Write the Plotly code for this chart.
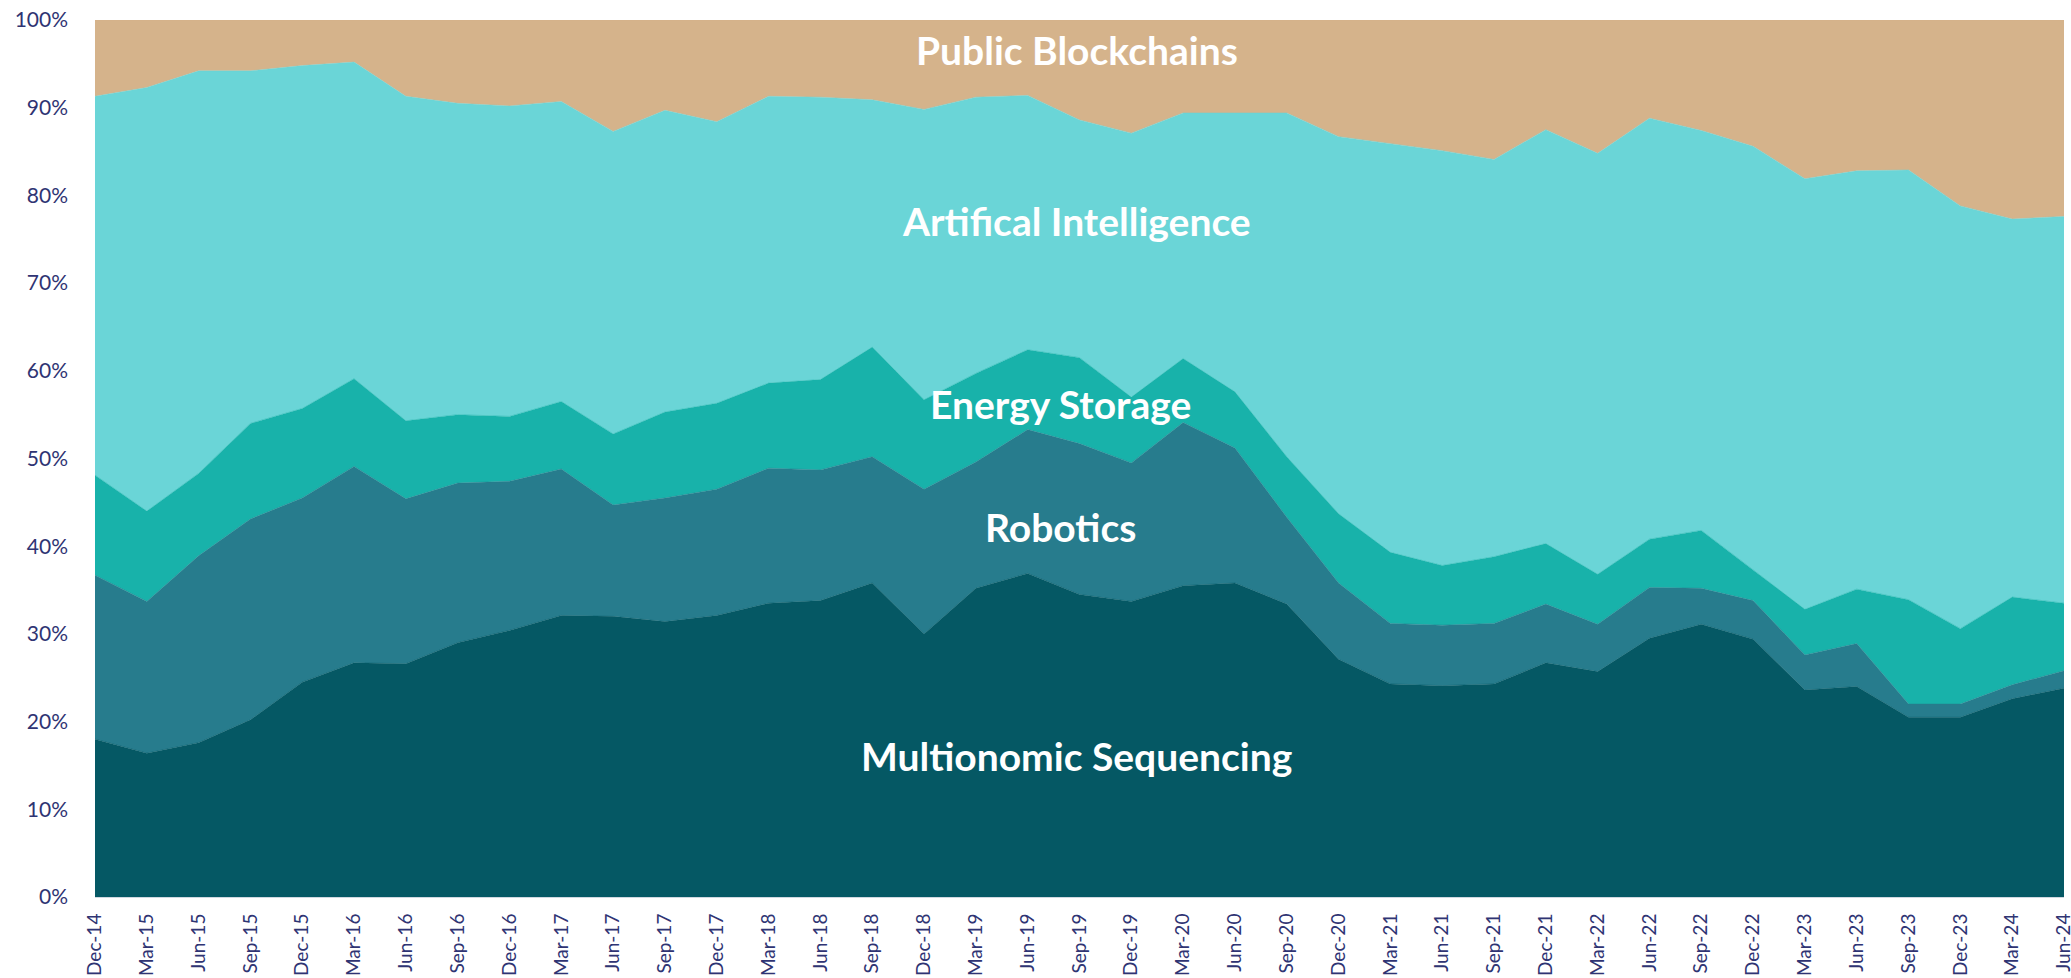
import plotly.graph_objects as go

quarters = ["Dec-14","Mar-15","Jun-15","Sep-15","Dec-15","Mar-16","Jun-16","Sep-16","Dec-16",
            "Mar-17","Jun-17","Sep-17","Dec-17","Mar-18","Jun-18","Sep-18","Dec-18","Mar-19",
            "Jun-19","Sep-19","Dec-19","Mar-20","Jun-20","Sep-20","Dec-20","Mar-21","Jun-21",
            "Sep-21","Dec-21","Mar-22","Jun-22","Sep-22","Dec-22","Mar-23","Jun-23","Sep-23",
            "Dec-23","Mar-24","Jun-24"]

multionomic_sequencing = [18.0,16.4,17.6,20.2,24.5,26.7,26.6,29.0,30.4,32.1,32.0,31.4,32.1,33.5,33.8,
                          35.8,30.0,35.2,36.9,34.5,33.7,35.5,35.8,33.4,27.1,24.3,24.1,24.3,26.7,25.7,
                          29.5,31.1,29.4,23.6,24.0,20.5,20.5,22.6,23.8]
robotics = [18.7,17.3,21.3,22.9,21.0,22.4,18.8,18.2,17.0,16.7,12.7,14.1,14.4,15.4,14.9,14.4,16.5,14.4,
            16.4,17.2,15.8,18.6,15.4,9.9,8.7,6.9,6.9,6.9,6.7,5.4,5.8,4.1,4.4,4.0,4.9,1.5,1.5,1.6,2.0]
energy_storage = [11.4,10.3,9.4,10.9,10.2,10.0,8.9,7.8,7.4,7.7,8.1,9.8,9.8,9.7,10.3,12.5,10.2,10.1,
                  9.1,9.8,7.5,7.3,6.4,6.9,7.9,8.1,6.8,7.6,6.9,5.7,5.5,6.6,3.5,5.2,6.2,11.9,8.6,10.0,7.7]
artificial_intelligence = [43.2,48.3,45.9,40.2,39.1,36.1,37.0,35.5,35.4,34.2,34.5,34.4,32.1,32.7,32.2,
                           28.2,33.1,31.5,29.0,27.1,30.1,28.0,31.8,39.2,43.0,46.6,47.3,45.3,47.2,48.0,
                           48.0,45.6,48.3,49.1,47.7,49.0,48.2,43.1,44.1]
public_blockchains = [8.7,7.7,5.8,5.8,5.2,4.8,8.7,9.5,9.8,9.3,12.7,10.3,11.6,8.7,8.8,9.1,10.2,8.8,8.6,
                      11.4,12.9,10.6,10.6,10.6,13.3,14.1,14.9,15.9,12.5,15.2,11.2,12.6,14.4,18.1,17.2,
                      17.1,21.2,22.7,22.4]

series = [
    ("Multionomic Sequencing", multionomic_sequencing, "#055864"),
    ("Robotics", robotics, "#277c8d"),
    ("Energy Storage", energy_storage, "#18b2aa"),
    ("Artifical Intelligence", artificial_intelligence, "#6ad5d7"),
    ("Public Blockchains", public_blockchains, "#d5b38b"),
]

# label placement (x in paper units, y in data units)
label_pos = {
    "Multionomic Sequencing": (0.4987, 16.1),
    "Robotics": (0.4901, 42.2),
    "Energy Storage": (0.4901, 56.2),
    "Artifical Intelligence": (0.4987, 77.1),
    "Public Blockchains": (0.4987, 96.6),
}

x = list(range(len(quarters)))
fig = go.Figure()
for name, vals, col in series:
    fig.add_trace(go.Scatter(
        x=x, y=vals, name=name, mode="lines", stackgroup="one", groupnorm="percent",
        line=dict(width=0.5, color=col), fillcolor=col, showlegend=False,
    ))

for name, (px, py) in label_pos.items():
    fig.add_annotation(x=px, xref="paper", y=py, yref="y", text=f"<b>{name}</b>",
                       showarrow=False, font=dict(family="Lato", size=39, color="white"))

tick_color = "#2f3473"
fig.update_layout(
    width=2071, height=978,
    margin=dict(l=95, r=7, t=20, b=81),
    paper_bgcolor="white", plot_bgcolor="white",
    font=dict(family="Lato", color=tick_color),
    xaxis=dict(range=[0, len(quarters) - 1], tickmode="array", tickvals=x, ticktext=quarters,
               tickangle=-90, tickfont=dict(size=19, color=tick_color), showgrid=False,
               zeroline=False, showline=True, linecolor="#d0d8e0", ticks="",
               automargin=False, ticklabeloverflow="allow", ticklabelstandoff=8),
    yaxis=dict(range=[0, 100], dtick=10, ticksuffix="%", tickfont=dict(size=21, color=tick_color),
               showgrid=True, gridcolor="#dcdcdc", zeroline=False, ticklabelstandoff=26,
               automargin=False),
)

fig.write_html("out.html", config={"displayModeBar": False},
               post_script="document.body.style.margin='0';document.body.style.overflow='hidden';")
